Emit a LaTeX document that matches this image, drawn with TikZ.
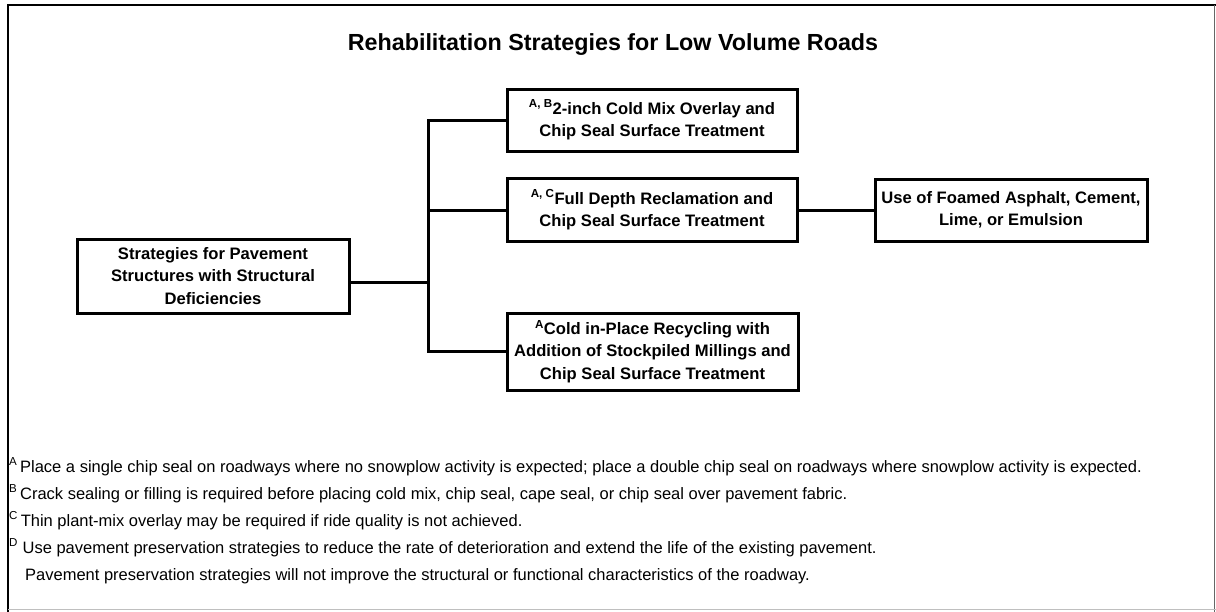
\documentclass[tikz,border=0pt]{standalone}
\usepackage{fontspec}
\setmainfont{Liberation Sans}
\usepackage{tikz}
\usetikzlibrary{positioning,calc}

\begin{document}
\begin{tikzpicture}[
x=1pt, y=-1pt, line cap=rect,
strategy-box/.style = {draw=black, line width=3pt, align=center, inner sep=0pt,
  font=\fontsize{16.6}{22.5}\selectfont\bfseries},
note-text/.style = {anchor=base west, inner sep=0pt,
  font=\fontsize{16.5}{20}\selectfont},
link/.style = {line width=3pt}
]
\useasboundingbox (0,0) rectangle (1216,611);

% frame
\draw[line width=2.5pt] (8,611) -- (8,5) -- (1216,5);
\draw[line width=1pt, black!60] (1214,5) -- (1214,611);
\draw[line width=1pt, black!25] (8,609.5) -- (1216,609.5);

% title
\node[font=\fontsize{23.3}{28}\selectfont\bfseries] (title) at (613,45) {Rehabilitation Strategies for Low Volume Roads};

% boxes
\node[strategy-box, minimum width=272, minimum height=74] (root) at (213,276)
  {Strategies for Pavement\\Structures with Structural\\Deficiencies};
\node[strategy-box, minimum width=290, minimum height=62] (overlay) at (652,120)
  {\textsuperscript{A, B}2-inch Cold Mix Overlay and\\Chip Seal Surface Treatment};
\node[strategy-box, minimum width=290, minimum height=63] (fdr) at (652,210)
  {\textsuperscript{A, C}Full Depth Reclamation and\\Chip Seal Surface Treatment};
\node[strategy-box, minimum width=291, minimum height=77] (cir) at (652.5,351.5)
  {\textsuperscript{A}Cold in-Place Recycling with\\Addition of Stockpiled Millings and\\Chip Seal Surface Treatment};
\node[strategy-box, minimum width=272, minimum height=62] (agent) at (1011,210)
  {Use of Foamed Asphalt, Cement,\\Lime, or Emulsion};

% connectors
\coordinate (fork) at (428,282);
\draw[link] (root.east |- fork) -- (fork);
\draw[link] (overlay.west) -| (fork) |- (cir.west);
\draw[link] (fdr.west) -- (fdr.west -| fork);
\draw[link] (fdr.east) -- (agent.west);

% notes
\node[note-text] (noteA) at (9,472) {\textsuperscript{A}\,Place a single chip seal on roadways where no snowplow activity is expected; place a double chip seal on roadways where snowplow activity is expected.};
\node[note-text] (noteB) at (9,499) {\textsuperscript{B}\,Crack sealing or filling is required before placing cold mix, chip seal, cape seal, or chip seal over pavement fabric.};
\node[note-text] (noteC) at (9,526) {\textsuperscript{C}\,Thin plant-mix overlay may be required if ride quality is not achieved.};
\node[note-text] (noteD) at (9,553) {\textsuperscript{D} Use pavement preservation strategies to reduce the rate of deterioration and extend the life of the existing pavement.};
\node[note-text] (noteE) at (25,580) {Pavement preservation strategies will not improve the structural or functional characteristics of the roadway.};

\end{tikzpicture}
\end{document}
